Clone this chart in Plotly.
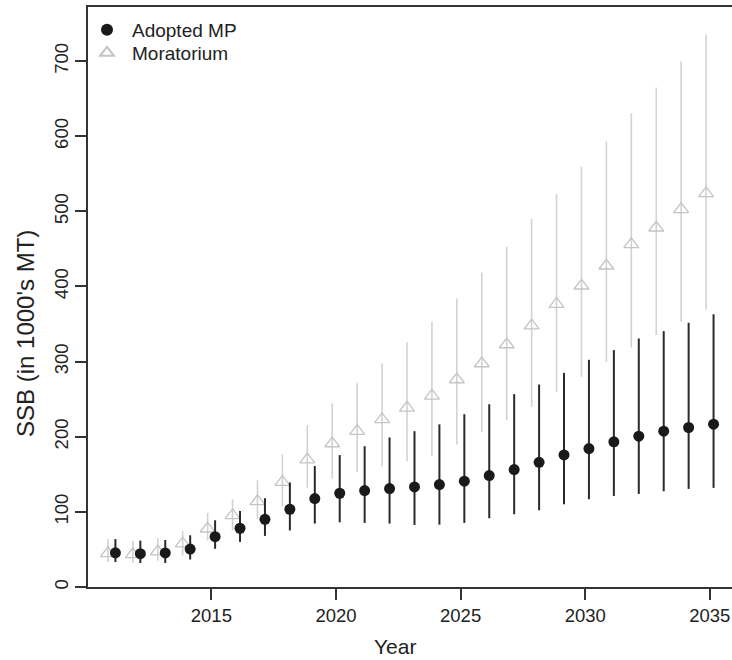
import plotly.graph_objects as go

years = list(range(2011, 2036))

adopted_med = [45.5, 44.4, 45.3, 50.5, 67.0, 78.2, 90.1, 103.5, 117.7, 124.8, 128.3, 131.0, 133.2,
               136.3, 140.8, 148.3, 156.3, 166.0, 175.8, 184.3, 193.2, 200.7, 207.4, 212.3, 216.7]
adopted_hi = [63.8, 61.7, 62.6, 68.8, 88.8, 101.2, 118.2, 139.2, 161.2, 175.6, 187.4, 199.0, 207.4,
              216.5, 230.0, 243.3, 256.7, 269.5, 285.0, 302.4, 315.3, 330.8, 340.6, 351.7, 363.0]
adopted_lo = [33.3, 32.0, 32.0, 36.6, 50.8, 60.0, 68.0, 75.3, 84.4, 86.1, 85.3, 84.4, 82.6,
              83.0, 85.3, 91.5, 96.8, 102.1, 110.1, 116.8, 121.2, 123.9, 127.4, 130.6, 131.9]

morat_med = [44.8, 43.5, 47.0, 57.7, 77.5, 95.3, 113.9, 139.6, 169.6, 191.0, 207.6, 223.0, 238.5,
             254.4, 276.2, 297.5, 322.8, 348.0, 376.6, 401.0, 427.6, 456.0, 478.2, 502.7, 524.0]
morat_hi = [63.8, 61.7, 65.0, 74.6, 98.6, 116.7, 142.0, 176.5, 215.4, 244.4, 271.3, 297.5, 325.3,
            353.0, 384.0, 418.3, 453.0, 489.7, 523.0, 559.5, 592.8, 630.6, 664.8, 699.4, 735.0]
morat_lo = [33.3, 32.0, 35.0, 42.2, 61.8, 75.5, 90.8, 107.0, 132.3, 144.1, 153.2, 159.9, 167.4,
            174.5, 189.6, 206.5, 222.0, 239.8, 259.8, 279.8, 299.7, 318.8, 335.3, 353.0, 369.5]

x_ticks = [2015, 2020, 2025, 2030, 2035]
y_ticks = [0, 100, 200, 300, 400, 500, 600, 700]

OFFSET = 0.15
FONT = "Liberation Sans, Arial, sans-serif"
TXT = "#222222"

fig = go.Figure()

fig.add_trace(go.Scatter(
    x=[y - OFFSET for y in years], y=morat_med, mode="markers", name="Moratorium", legend="legend2",
    marker=dict(symbol="triangle-up-open", size=13, color="#c4c4c4", line=dict(width=1.3, color="#c4c4c4")),
    error_y=dict(type="data", symmetric=False,
                 array=[h - m for h, m in zip(morat_hi, morat_med)],
                 arrayminus=[m - l for m, l in zip(morat_med, morat_lo)],
                 width=0, thickness=1.6, color="#d2d2d2"),
))

fig.add_trace(go.Scatter(
    x=[y + OFFSET for y in years], y=adopted_med, mode="markers", name="Adopted MP", legend="legend",
    marker=dict(symbol="circle", size=11, color="#1a1a1a"),
    error_y=dict(type="data", symmetric=False,
                 array=[h - m for h, m in zip(adopted_hi, adopted_med)],
                 arrayminus=[m - l for m, l in zip(adopted_med, adopted_lo)],
                 width=0, thickness=2, color="#2a2a2a"),
))

leg_common = dict(xanchor="left", yanchor="top", font=dict(size=19, family=FONT, color=TXT),
                  bgcolor="rgba(0,0,0,0)", itemwidth=40, itemsizing="constant")

fig.update_layout(
    width=732, height=660,
    margin=dict(l=88, r=0, t=7, b=73),
    paper_bgcolor="white", plot_bgcolor="white",
    font=dict(family=FONT, color=TXT, size=18.5),
    showlegend=True,
    legend=dict(x=(82 - 88) / 644, y=(587 - 11) / 580, **leg_common),
    legend2=dict(x=(82 - 88) / 644, y=(587 - 34) / 580, **leg_common),
    xaxis=dict(range=[2010.05, 2035.89], tickvals=x_ticks, ticktext=[str(t) for t in x_ticks],
               showgrid=False, zeroline=False, showline=True, mirror=True, linecolor="#333333", linewidth=1.6,
               ticks="outside", ticklen=11, tickwidth=1.5, tickcolor="#333333",
               tickfont=dict(size=18.5, family=FONT, color=TXT)),
    yaxis=dict(range=[0, 772], tickvals=y_ticks, ticktext=[str(t) for t in y_ticks],
               showgrid=False, zeroline=False, showline=True, mirror=False, linecolor="#333333", linewidth=1.6,
               ticks="outside", ticklen=11, tickwidth=1.5, tickcolor="#333333", tickangle=-90,
               tickfont=dict(size=18.5, family=FONT, color=TXT)),
    annotations=[
        dict(text="Year", xref="paper", yref="paper", x=(395 - 88) / 644, y=-(646 - 587) / 580,
             xanchor="center", yanchor="middle", showarrow=False, font=dict(size=21, family=FONT, color=TXT)),
        dict(text="SSB (in 1000's MT)", xref="paper", yref="paper", x=-(88 - 25) / 644, y=(587 - 334) / 580,
             xanchor="center", yanchor="middle", textangle=-90, showarrow=False,
             font=dict(size=24, family=FONT, color=TXT)),
    ],
)

fig.write_html("out.html")
